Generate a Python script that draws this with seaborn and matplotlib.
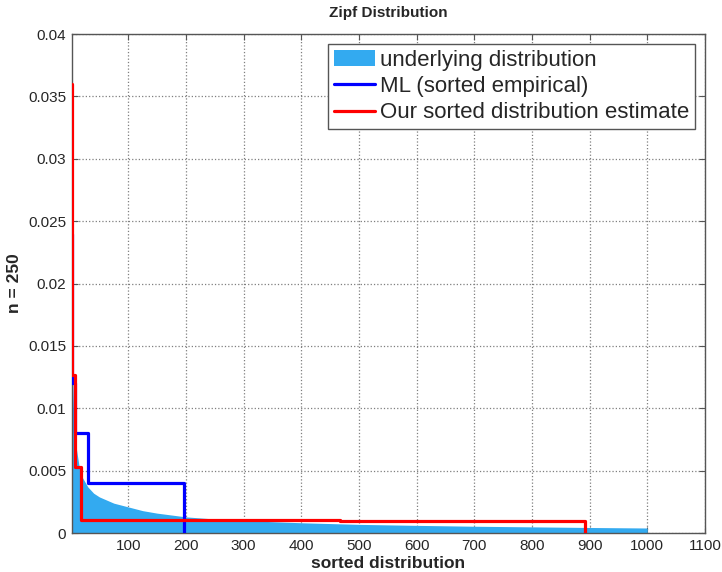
import seaborn as sns
import matplotlib.pyplot as plt
import pandas as pd

# underlying (sorted) distribution
under_x = [1, 2, 3, 5, 8, 10, 15, 20, 30, 40, 50, 75, 100, 125, 150, 200,
           250, 300, 400, 500, 600, 700, 800, 900, 1000]
under_y = [0.027, 0.018, 0.014, 0.010, 0.0077, 0.0068, 0.0053, 0.0045,
           0.0037, 0.0032, 0.0029, 0.0024, 0.0021, 0.0018, 0.0016, 0.0013,
           0.00113, 0.00100, 0.00083, 0.00070, 0.00062, 0.00055, 0.00050,
           0.00045, 0.00041]

# ML (sorted empirical) step function
ml_x = [1, 2, 3, 8, 31, 196, 196]
ml_y = [0.024, 0.020, 0.012, 0.008, 0.004, 0.0, 0.0]

# our sorted distribution estimate step function
est_x = [1, 2, 8, 18, 467, 892, 892]
est_y = [0.036, 0.0127, 0.0053, 0.00104, 0.00094, 0.0, 0.0]

ml = pd.DataFrame({"x": ml_x, "y": ml_y})
est = pd.DataFrame({"x": est_x, "y": est_y})

sns.set_style("whitegrid", {
    "grid.linestyle": ":",
    "grid.color": "#7f7f7f",
    "axes.edgecolor": "#555555",
    "xtick.direction": "in",
    "ytick.direction": "in",
})
plt.rcParams["font.family"] = ["Liberation Sans", "DejaVu Sans"]

fig = plt.figure(figsize=(7.22, 5.72), dpi=100)
ax = fig.add_axes([0.0993, 0.068, 0.877, 0.8724])

ax.fill_between(under_x, under_y, 0, color="#33aaf0", linewidth=0,
                label="underlying distribution", zorder=2)
sns.lineplot(data=ml, x="x", y="y", ax=ax, color="#0000ff", linewidth=2.3,
             drawstyle="steps-post", label="ML (sorted empirical)",
             sort=False, zorder=3)
sns.lineplot(data=est, x="x", y="y", ax=ax, color="#ff0000", linewidth=2.3,
             drawstyle="steps-post", label="Our sorted distribution estimate",
             sort=False, zorder=4)

ax.set_xlim(2, 1100)
ax.set_ylim(0, 0.04)
ax.set_xticks(range(100, 1101, 100))
ax.set_yticks([i * 0.005 for i in range(9)])
ax.set_yticklabels(["0", "0.005", "0.01", "0.015", "0.02", "0.025",
                    "0.03", "0.035", "0.04"])
ax.tick_params(axis="both", labelsize=11, length=4, color="#555555",
               top=True, right=True, bottom=True, left=True, pad=4)
ax.grid(True, linewidth=0.9)
for s in ax.spines.values():
    s.set_linewidth(1.0)
    s.set_color("#555555")

ax.set_title("Zipf Distribution", fontsize=11, fontweight="bold", pad=12)
ax.set_xlabel("sorted distribution", fontsize=12.5, fontweight="bold",
              va="center")
ax.xaxis.set_label_coords(0.5, -0.06)
ax.set_ylabel("n = 250", fontsize=12.5, fontweight="bold", va="center")
ax.yaxis.set_label_coords(-0.09, 0.5)

leg = ax.legend(loc="upper right", fontsize=16, frameon=True, fancybox=False,
                borderpad=0.25, handlelength=1.87, handletextpad=0.22,
                labelspacing=0.24, borderaxespad=0.45)
leg.get_frame().set_edgecolor("#555555")
leg.get_frame().set_linewidth(1.0)
leg.get_frame().set_alpha(1.0)

fig.savefig("out.png", dpi=100)
plt.close()
